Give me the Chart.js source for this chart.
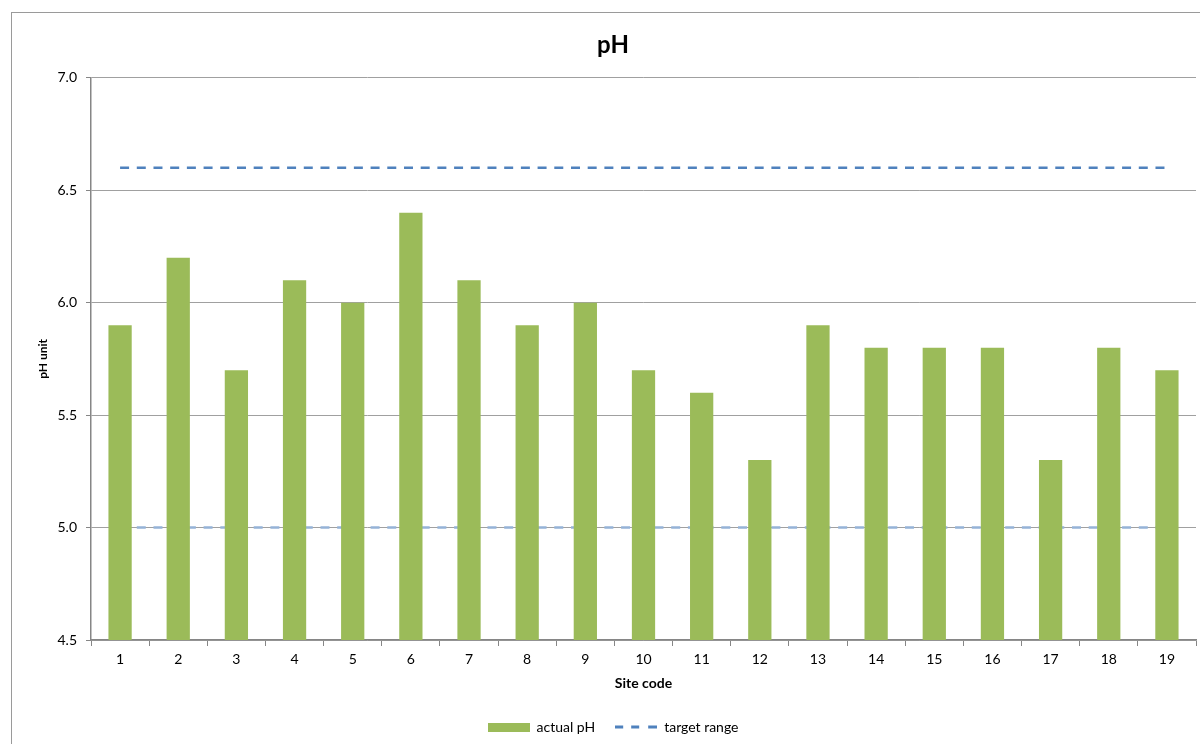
<!DOCTYPE html>
<html>
<head>
<meta charset="utf-8">
<script src="https://cdn.jsdelivr.net/npm/chart.js@4/dist/chart.umd.min.js"></script>
<style>
  html, body { margin: 0; padding: 0; background: #ffffff; }
  #wrap { width: 1200px; height: 744px; position: relative; }
</style>
</head>
<body>
<div id="wrap"><canvas id="c" width="1200" height="744"></canvas></div>
<script>
// Site codes along the x axis
const siteCodes = ['1','2','3','4','5','6','7','8','9','10','11','12','13','14','15','16','17','18','19'];
// Measured pH per site
const actualPH = [5.9, 6.2, 5.7, 6.1, 6.0, 6.4, 6.1, 5.9, 6.0, 5.7, 5.6, 5.3, 5.9, 5.8, 5.8, 5.8, 5.3, 5.8, 5.7];
// Target range bounds per site
const targetUpper = [6.6, 6.6, 6.6, 6.6, 6.6, 6.6, 6.6, 6.6, 6.6, 6.6, 6.6, 6.6, 6.6, 6.6, 6.6, 6.6, 6.6, 6.6, 6.6];
const targetLower = [5.0, 5.0, 5.0, 5.0, 5.0, 5.0, 5.0, 5.0, 5.0, 5.0, 5.0, 5.0, 5.0, 5.0, 5.0, 5.0, 5.0, 5.0, 5.0];
// Y axis tick values
const yTicks = [4.5, 5.0, 5.5, 6.0, 6.5, 7.0];

const GREEN = '#9bbb59';
const BLUE = '#4f81bd';
const LIGHT_BLUE = '#95b3d7';
const FONT = 'Lato, "Open Sans", "Noto Sans", sans-serif';

// Legend swatches
function swatchBar() {
  const c = document.createElement('canvas');
  c.width = 42; c.height = 9;
  const x = c.getContext('2d');
  x.fillStyle = GREEN; x.fillRect(0, 0, 42, 9);
  return c;
}
function swatchDash() {
  const c = document.createElement('canvas');
  c.width = 42; c.height = 4;
  const x = c.getContext('2d');
  x.fillStyle = BLUE;
  [[0, 8], [16, 8], [33, 9]].forEach(([s, w]) => x.fillRect(s, 0.5, w, 3));
  return c;
}

// Outer chart frame
const framePlugin = {
  id: 'frame',
  beforeDraw(chart) {
    const ctx = chart.ctx;
    ctx.save();
    ctx.fillStyle = '#ffffff';
    ctx.fillRect(0, 0, chart.width, chart.height);
    ctx.strokeStyle = '#9a9a9a';
    ctx.lineWidth = 1;
    ctx.strokeRect(11.5, 12.5, 1400, 900);
    ctx.restore();
  }
};

new Chart(document.getElementById('c'), {
  type: 'bar',
  data: {
    labels: siteCodes,
    datasets: [
      {
        type: 'bar',
        label: 'actual pH',
        data: actualPH,
        backgroundColor: GREEN,
        borderWidth: 0,
        categoryPercentage: 1.0,
        barPercentage: 0.4,
        order: 2,
        pointStyle: swatchBar()
      },
      {
        type: 'line',
        label: 'target range',
        data: targetUpper,
        borderColor: BLUE,
        backgroundColor: BLUE,
        borderWidth: 2.5,
        borderDash: [9, 7.7],
        pointRadius: 0,
        fill: false,
        order: 1,
        pointStyle: swatchDash()
      },
      {
        type: 'line',
        label: 'target lower',
        data: targetLower,
        borderColor: LIGHT_BLUE,
        backgroundColor: LIGHT_BLUE,
        borderWidth: 2.5,
        borderDash: [9, 7.7],
        pointRadius: 0,
        fill: false,
        order: 3
      }
    ]
  },
  options: {
    responsive: false,
    animation: false,
    devicePixelRatio: 1,
    layout: { padding: { left: 30, right: 4, top: 0, bottom: 0 } },
    plugins: {
      title: {
        display: true,
        text: 'pH',
        color: '#000000',
        font: { family: FONT, size: 24, weight: 'bold', lineHeight: 1.2 },
        padding: { top: 31, bottom: 18 }
      },
      legend: {
        display: true,
        position: 'bottom',
        labels: {
          color: '#000000',
          font: { family: FONT, size: 14 },
          usePointStyle: true,
          pointStyleWidth: 42,
          boxHeight: 14,
          padding: 20,
          filter: (item) => item.datasetIndex !== 2,
          sort: (a, b) => a.datasetIndex - b.datasetIndex
        }
      },
      tooltip: { enabled: false }
    },
    scales: {
      x: {
        offset: true,
        grid: {
          offset: true,
          drawOnChartArea: false,
          drawTicks: true,
          tickLength: 6,
          color: '#868686',
          lineWidth: 1
        },
        border: { display: true, color: '#868686', width: 1.5 },
        ticks: {
          color: '#000000',
          font: { family: FONT, size: 14 },
          padding: 5,
          maxRotation: 0,
          autoSkip: false
        },
        title: {
          display: true,
          text: 'Site code',
          color: '#000000',
          font: { family: FONT, size: 14, weight: 'bold' },
          padding: { top: 4, bottom: 8 }
        },
        afterFit(scale) { scale.height = 60; }
      },
      y: {
        min: 4.5,
        max: 7.0,
        afterBuildTicks(scale) { scale.ticks = yTicks.map(v => ({ value: v })); },
        grid: {
          color: '#a0a0a0',
          lineWidth: 1,
          drawTicks: true,
          tickLength: 5,
          tickColor: '#868686'
        },
        border: { display: true, color: '#868686', width: 1.5 },
        ticks: {
          color: '#000000',
          font: { family: FONT, size: 14 },
          padding: 9,
          callback: (v) => Number(v).toFixed(1)
        },
        title: {
          display: true,
          text: 'pH unit',
          color: '#000000',
          font: { family: FONT, size: 12, weight: 'bold' },
          padding: { top: 6, bottom: 4 }
        },
        afterFit(scale) { scale.width = 61; }
      }
    }
  },
  plugins: [framePlugin]
});
</script>
</body>
</html>
